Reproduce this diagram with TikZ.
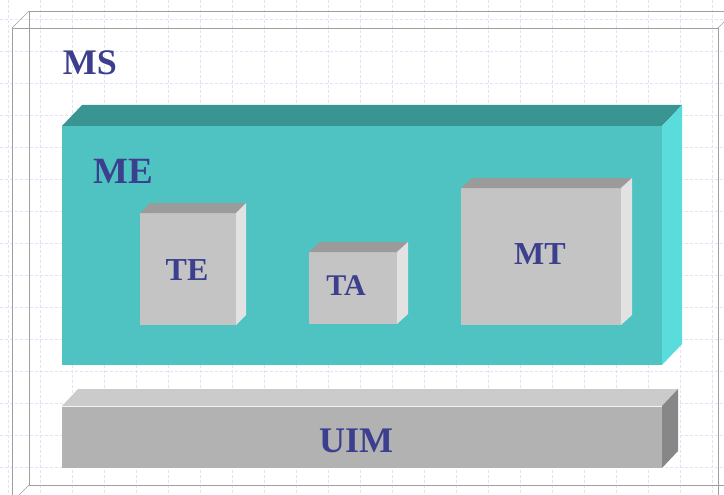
\documentclass[tikz,border=0pt]{standalone}
\usepackage{fontspec}
\setmainfont{Liberation Serif}
\definecolor{lblc}{HTML}{3C3F8E}
\definecolor{gridc}{HTML}{DEE3F8}
\definecolor{mefront}{HTML}{4EC3C1}
\definecolor{metop}{HTML}{3A9592}
\definecolor{meright}{HTML}{5ADCDC}
\definecolor{bxfront}{HTML}{C4C4C4}
\definecolor{bxtop}{HTML}{9B9B9B}
\definecolor{bxright}{HTML}{E2E2E2}
\definecolor{uifront}{HTML}{B2B2B2}
\definecolor{uitop}{HTML}{CBCBCB}
\definecolor{uiright}{HTML}{878787}
\newcommand\mycuboid[9]{%
  \fill[#7] (#1,#2) rectangle (#3,#4);
  \fill[#8] (#1,#2) -- ({#1+(#5)},{#2+(#6)}) -- ({#3+(#5)},{#2+(#6)}) -- (#3,#2) -- cycle;
  \fill[#9] (#3,#2) -- ({#3+(#5)},{#2+(#6)}) -- ({#3+(#5)},{#4+(#6)}) -- (#3,#4) -- cycle;}
\tikzset{
  lbl/.style={font=\bfseries\fontsize{#1}{#1}\selectfont, text=lblc, inner sep=0pt},
  gridline/.style={gridc, line width=0.6pt, dash pattern=on 3pt off 2pt},
  msline/.style={draw=gray!75, line width=0.7pt}
}
\begin{document}
\begin{tikzpicture}[x=1pt,y=-1pt]
\useasboundingbox (0,0) rectangle (724,495);
% grid
\foreach \gx in {8,40,...,724} \draw[gridline] (\gx,0) -- (\gx,495);
\foreach \gy in {19,51,...,495} \draw[gridline] (0,\gy) -- (724,\gy);
% MS transparent box
\draw[msline] (29,485) -- (29,11) -- (724,11);
\draw[msline] (29,485) -- (724,485);
\draw[msline] (12,495) -- (12,28) -- (718,28) -- (718,495);
\draw[msline] (12,28) -- (29,11);
\draw[msline] (718,28) -- (724,22);
\draw[msline] (29,485) -- (19,495);
% ME
\mycuboid{62}{126}{662}{365}{20}{-21}{mefront}{metop}{meright}
% UIM
\mycuboid{62}{406}{662}{468}{16}{-17}{uifront}{uitop}{uiright}
\draw[white!90!gray, line width=0.8pt] (62,406) -- (662,406);
% TE, TA, MT
\mycuboid{140}{213}{236}{325}{10}{-10}{bxfront}{bxtop}{bxright}
\mycuboid{309}{252}{397}{324}{11}{-10}{bxfront}{bxtop}{bxright}
\mycuboid{461}{188}{621}{325}{11}{-10}{bxfront}{bxtop}{bxright}
% labels
\node[lbl=36] (ms) at (90,63) {MS};
\node[lbl=37] (me) at (123,171) {ME};
\node[lbl=32] (te) at (187,270) {TE};
\node[lbl=30] (ta) at (346,286) {TA};
\node[lbl=32] (mt) at (540,254) {MT};
\node[lbl=36] (uim) at (356,441) {UIM};
\end{tikzpicture}
\end{document}
